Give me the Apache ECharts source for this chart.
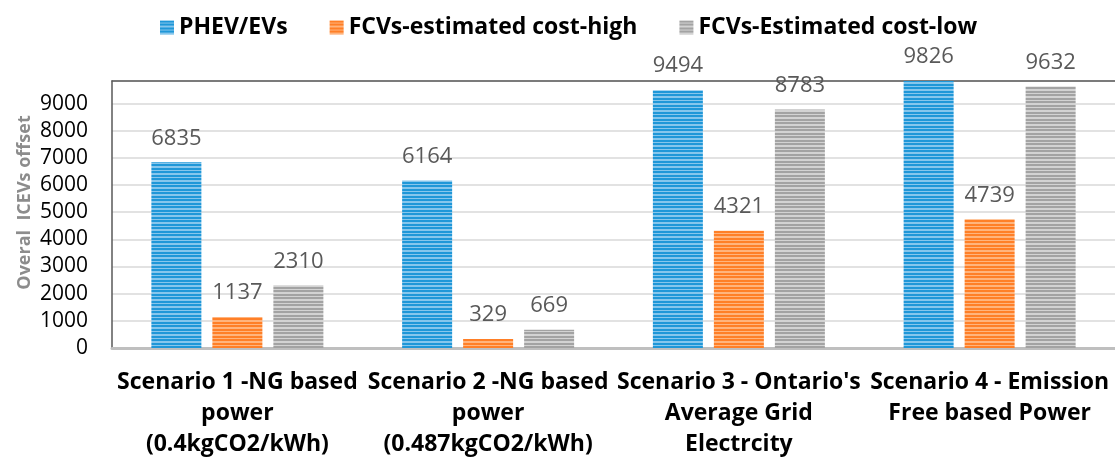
<!doctype html>
<html>
<head>
<meta charset="utf-8">
<title>ICEVs offset</title>
<script src="https://cdn.jsdelivr.net/npm/echarts@6/dist/echarts.min.js"></script>
<style>
  html, body { margin: 0; padding: 0; background: #fff; }
  #main { width: 1115px; height: 459px; }
</style>
</head>
<body>
<div id="main"></div>
<script>
// data
var categories = [
  'Scenario 1 -NG based\npower\n(0.4kgCO2/kWh)',
  'Scenario 2 -NG based\npower\n(0.487kgCO2/kWh)',
  "Scenario 3 - Ontario's\nAverage Grid\nElectrcity",
  'Scenario 4 - Emission\nFree based Power'
];
var seriesNames = ['PHEV/EVs', 'FCVs-estimated cost-high', 'FCVs-Estimated cost-low'];
var phev = [6835, 6164, 9494, 9826];
var fcvHigh = [1137, 329, 4321, 4739];
var fcvLow = [2310, 669, 8783, 9632];

var FONT = '"Open Sans", sans-serif';

// horizontal stripe fill like the excel pattern
function stripes(dark, light) {
  var c = document.createElement('canvas');
  c.width = 4; c.height = 7;
  var ctx = c.getContext('2d');
  var rows = [dark, dark, light, dark, dark, light, light];
  for (var i = 0; i < rows.length; i++) {
    ctx.fillStyle = rows[i];
    ctx.fillRect(0, i, 4, 1);
  }
  return { image: c, repeat: 'repeat' };
}

var fills = [
  stripes('#1f97d8', '#86c6ec'),
  stripes('#ff7f27', '#ffb47d'),
  stripes('#a3a3a3', '#d3d3d3')
];
var values = [phev, fcvHigh, fcvLow];

var myChart = echarts.init(document.getElementById('main'));

var series = [];
for (var i = 0; i < seriesNames.length; i++) {
  series.push({
    name: seriesNames[i],
    type: 'bar',
    data: values[i],
    barWidth: 50,
    barGap: '22%',
    itemStyle: { color: fills[i] },
    label: {
      show: true,
      position: 'top',
      distance: 13,
      color: '#595959',
      fontFamily: FONT,
      fontSize: 22
    }
  });
}

var option = {
  animation: false,
  textStyle: { fontFamily: FONT },
  legend: {
    top: 11,
    left: 155,
    itemWidth: 14,
    itemHeight: 14,
    itemGap: 42,
    icon: 'rect',
    textStyle: { fontFamily: FONT, fontWeight: 'bold', fontSize: 23, color: '#000' },
    data: seriesNames
  },
  grid: { left: 112, right: 0, top: 81, bottom: 111, outerBoundsMode: 'none', containLabel: false },
  xAxis: [{
    type: 'category',
    data: categories,
    axisLine: { lineStyle: { color: '#bfbfbf', width: 3 } },
    axisTick: { show: false },
    axisLabel: {
      interval: 0,
      margin: 19,
      fontFamily: FONT,
      fontWeight: 'bold',
      fontSize: 23,
      lineHeight: 31,
      color: '#000'
    }
  }, {
    type: 'category',
    position: 'top',
    data: categories,
    axisLine: { lineStyle: { color: '#595959', width: 1.5 } },
    axisTick: { show: false },
    axisLabel: { show: false }
  }],
  yAxis: {
    type: 'value',
    min: 0,
    max: 9830,
    interval: 1000,
    name: 'Overal  ICEVs offset',
    nameLocation: 'middle',
    nameGap: 78,
    nameMoveOverlap: false,
    nameTextStyle: { fontFamily: FONT, fontWeight: 'bold', fontSize: 18, color: '#8c8c8c', padding: [0, 0, 0, 24] },
    axisLine: { show: true, lineStyle: { color: '#595959', width: 1.5 } },
    axisTick: { show: false },
    axisLabel: {
      showMaxLabel: false,
      margin: 24,
      fontFamily: FONT,
      fontSize: 21,
      color: '#000',
      formatter: function (v) { return String(v); }
    },
    splitLine: { lineStyle: { color: '#d9d9d9', width: 1.5 } }
  },
  series: series
};

myChart.setOption(option);
</script>
</body>
</html>
